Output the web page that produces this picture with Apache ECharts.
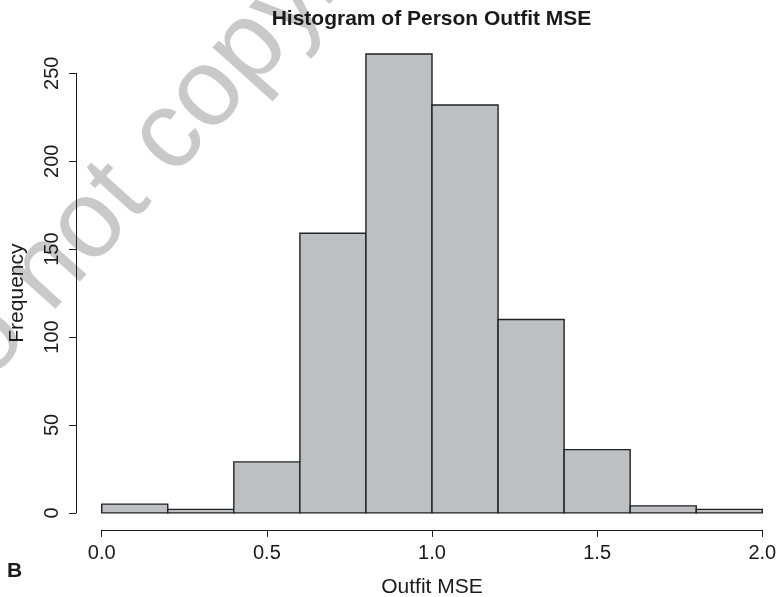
<!DOCTYPE html>
<html>
<head>
<meta charset="utf-8">
<title>Histogram of Person Outfit MSE</title>
<script src="https://cdn.jsdelivr.net/npm/echarts@6/dist/echarts.min.js"></script>
<style>
  html, body { margin: 0; padding: 0; background: #ffffff; }
  #chart { width: 778px; height: 597px; }
</style>
</head>
<body>
<div id="chart"></div>
<script>
// Histogram bins (left/right edges) and their counts
const binStart = [0.0, 0.2, 0.4, 0.6, 0.8, 1.0, 1.2, 1.4, 1.6, 1.8];
const binEnd   = [0.2, 0.4, 0.6, 0.8, 1.0, 1.2, 1.4, 1.6, 1.8, 2.0];
const counts   = [5, 2, 29, 159, 261, 232, 110, 36, 4, 2];

// Axis ticks
const xTicks = [0.0, 0.5, 1.0, 1.5, 2.0];
const yTicks = [0, 50, 100, 150, 200, 250];

const chartTitle = 'Histogram of Person Outfit MSE';
const xTitle = 'Outfit MSE';
const yTitle = 'Frequency';
const panelTag = 'B';
const stampText = 'Do not copy.';

const FONT = '"Liberation Sans", Arial, Helvetica, sans-serif';
const INK = '#1a1a1a';

const chart = echarts.init(document.getElementById('chart'), null, { renderer: 'canvas' });

const bars = binStart.map((s, i) => [s, binEnd[i], counts[i]]);

const xMin = xTicks[0], xMax = xTicks[xTicks.length - 1];
const yMin = yTicks[0], yMax = yTicks[yTicks.length - 1];

// Plot area, plus two detached axes set off from it (base-graphics style)
const plotBox = { left: 101.7, right: 15.7, top: 73.3, bottom: 84.1 };
const yAxisGap = 25.7;
const xAxisGap = 17;

const hiddenX = (gridIndex) => ({ type: 'value', gridIndex, min: xMin, max: xMax, show: false });
const hiddenY = (gridIndex) => ({ type: 'value', gridIndex, min: yMin, max: yMax, show: false });

const option = {
  backgroundColor: '#ffffff',
  animation: false,
  grid: [
    Object.assign({ containLabel: false, outerBoundsMode: 'none' }, plotBox),
    {
      containLabel: false, outerBoundsMode: 'none',
      left: plotBox.left - yAxisGap, right: plotBox.right,
      top: plotBox.top, bottom: plotBox.bottom
    },
    {
      containLabel: false, outerBoundsMode: 'none',
      left: plotBox.left, right: plotBox.right,
      top: plotBox.top + xAxisGap, bottom: plotBox.bottom - xAxisGap
    }
  ],
  graphic: [
    {
      type: 'text',
      z: -10,
      x: 117, y: 195,
      rotation: 48 * Math.PI / 180,
      silent: true,
      style: {
        text: stampText,
        font: '110px ' + FONT,
        fill: '#c9c9c9',
        align: 'center',
        verticalAlign: 'middle'
      }
    },
    {
      type: 'text',
      x: 431.5, y: 19.5,
      style: {
        text: chartTitle,
        font: 'bold 21px ' + FONT,
        fill: INK,
        align: 'center',
        verticalAlign: 'middle'
      }
    },
    {
      type: 'text',
      x: 7, y: 571,
      style: {
        text: panelTag,
        font: 'bold 21px ' + FONT,
        fill: INK,
        align: 'left',
        verticalAlign: 'middle'
      }
    }
  ],
  xAxis: [
    hiddenX(0),
    hiddenX(1),
    {
      type: 'value',
      gridIndex: 2,
      min: xMin,
      max: xMax,
      interval: 0.5,
      splitLine: { show: false },
      axisLine: { show: true, onZero: false, lineStyle: { color: INK, width: 1 } },
      axisTick: { show: true, length: 7, lineStyle: { color: INK, width: 1 } },
      axisLabel: {
        margin: 14,
        fontFamily: FONT, fontSize: 20, color: INK,
        formatter: v => v.toFixed(1)
      },
      name: xTitle,
      nameLocation: 'middle',
      nameGap: 47,
      nameTextStyle: { fontFamily: FONT, fontSize: 21, color: INK }
    }
  ],
  yAxis: [
    hiddenY(0),
    {
      type: 'value',
      gridIndex: 1,
      min: yMin,
      max: yMax,
      interval: 50,
      splitLine: { show: false },
      axisLine: { show: true, onZero: false, lineStyle: { color: INK, width: 1 } },
      axisTick: { show: true, length: 7, lineStyle: { color: INK, width: 1 } },
      axisLabel: {
        margin: 14,
        rotate: 90,
        fontFamily: FONT, fontSize: 20, color: INK
      },
      name: yTitle,
      nameLocation: 'middle',
      nameRotate: 90,
      nameGap: 48,
      nameTextStyle: { fontFamily: FONT, fontSize: 21, color: INK }
    },
    hiddenY(2)
  ],
  series: [{
    type: 'custom',
    xAxisIndex: 0,
    yAxisIndex: 0,
    clip: false,
    data: bars,
    encode: { x: [0, 1], y: 2 },
    renderItem: function (params, api) {
      const topLeft = api.coord([api.value(0), api.value(2)]);
      const bottomRight = api.coord([api.value(1), 0]);
      return {
        type: 'rect',
        shape: {
          x: topLeft[0],
          y: topLeft[1],
          width: bottomRight[0] - topLeft[0],
          height: bottomRight[1] - topLeft[1]
        },
        style: {
          fill: '#bebfc3',
          stroke: '#222222',
          lineWidth: 1.4
        }
      };
    }
  }]
};

chart.setOption(option);
</script>
</body>
</html>
